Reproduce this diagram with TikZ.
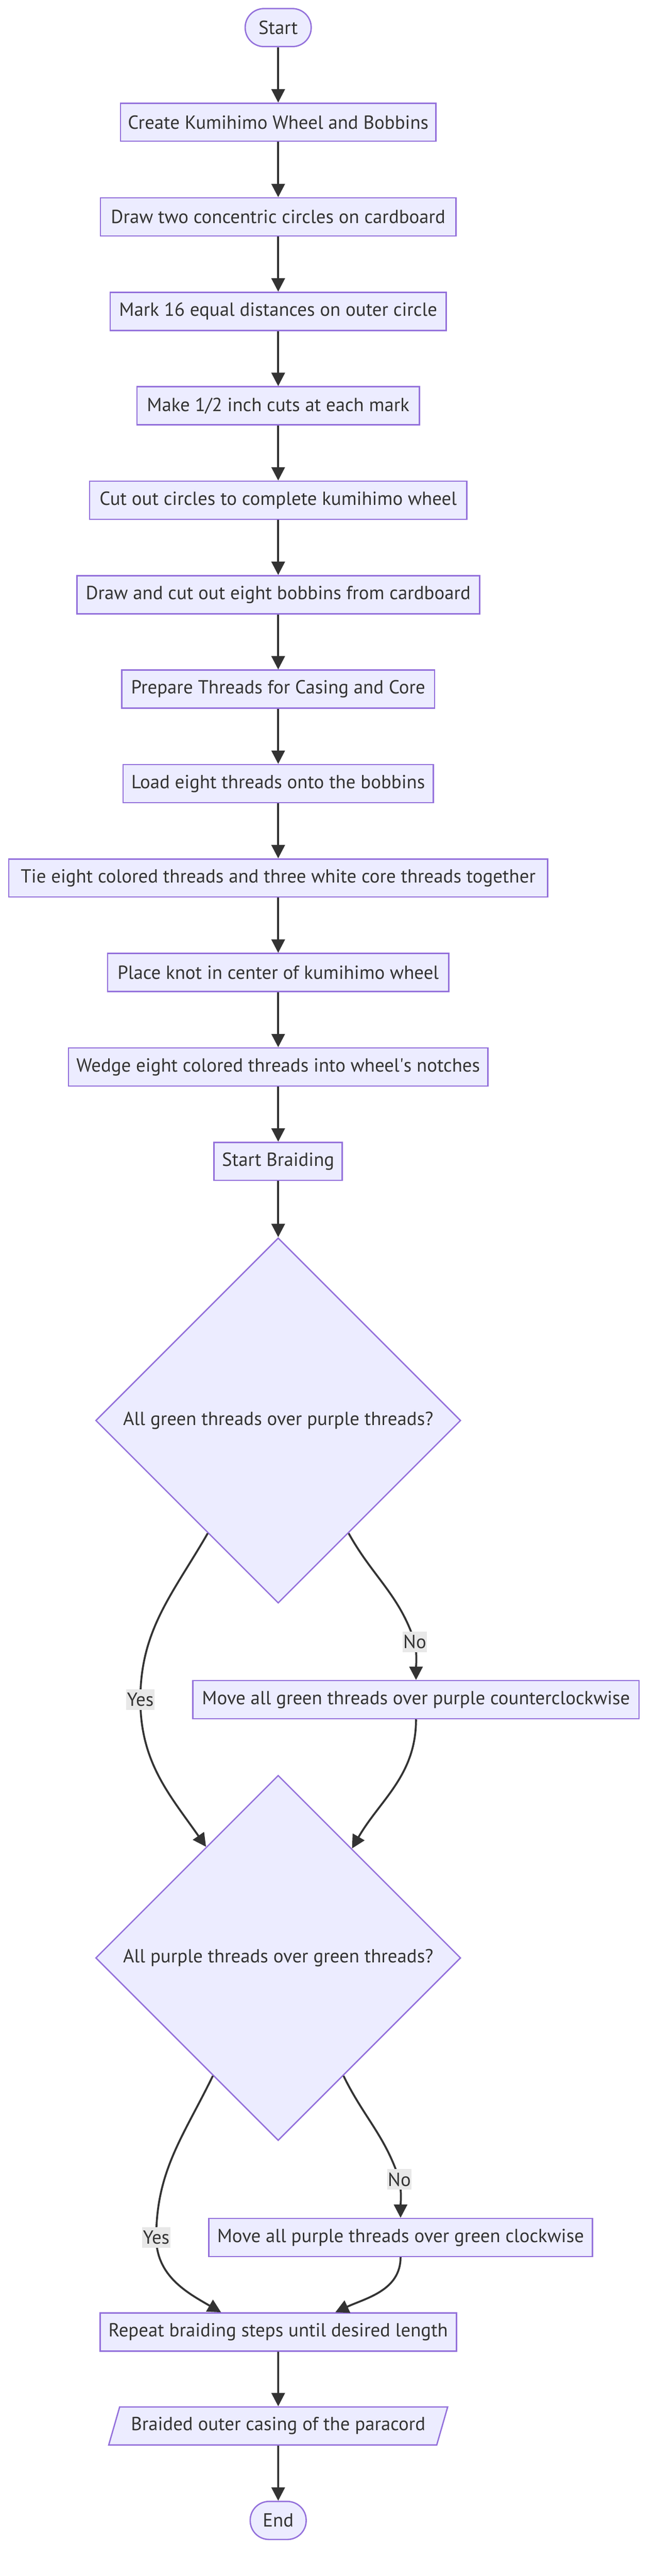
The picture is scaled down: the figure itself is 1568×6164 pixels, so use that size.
\documentclass[tikz,border=0pt]{standalone}
\usepackage{fontspec}
\setmainfont{PT Sans}
\usepackage{xcolor}
\usetikzlibrary{shapes.geometric,arrows.meta,positioning}
\definecolor{nodefill}{HTML}{ECECFF}
\definecolor{nodeline}{HTML}{9370DB}
\definecolor{edgeline}{HTML}{333333}
\definecolor{lblfill}{HTML}{E8E8E8}
\tikzset{
    box/.style={draw=nodeline, fill=nodefill, line width=1.6pt, minimum height=45.5pt, inner sep=2pt, text=edgeline, font=\fontsize{22.7}{27}\selectfont},
    term/.style={box, rounded corners=22.5pt},
    decide/.style={box, diamond, aspect=1, minimum width=437pt, minimum height=437pt},
    outbox/.style={box, trapezium, trapezium left angle=63.7, trapezium right angle=116.3, trapezium stretches},
    lbl/.style={fill=lblfill, text=edgeline, inner sep=1pt, minimum height=24.5pt, font=\fontsize{22.7}{27}\selectfont},
    flow/.style={draw=edgeline, line width=2.3pt, -{Triangle[length=16pt,width=16pt]}}
}

\begin{document}
\begin{tikzpicture}[x=0.5pt, y=0.5pt]
    \useasboundingbox (0,0) rectangle (1568,-6164);

    % Making the wheel and bobbins
    \node[term, minimum width=79pt] (start) at (666,-66) {Start};
    \node[box, minimum width=377.5pt] (wheel) at (666,-292.5) {Create Kumihimo Wheel and Bobbins};
    \node[box, minimum width=425.5pt] (circles) at (666,-519) {Draw two concentric circles on cardboard};
    \node[box, minimum width=402pt] (marks) at (666,-745) {Mark 16 equal distances on outer circle};
    \node[box, minimum width=338pt] (cuts) at (666,-971) {Make 1/2 inch cuts at each mark};
    \node[box, minimum width=451.5pt] (cutout) at (666,-1197) {Cut out circles to complete kumihimo wheel};
    \node[box, minimum width=482pt] (bobbins) at (666,-1423) {Draw and cut out eight bobbins from cardboard};

    % Threads
    \node[box, minimum width=374.5pt] (threads) at (666,-1649) {Prepare Threads for Casing and Core};
    \node[box, minimum width=371.5pt] (load) at (666,-1875) {Load eight threads onto the bobbins};
    \node[box, minimum width=645pt] (tie) at (666,-2101) {Tie eight colored threads and three white core threads together};
    \node[box, minimum width=408.5pt] (knot) at (666,-2327) {Place knot in center of kumihimo wheel};
    \node[box, minimum width=502pt] (wedge) at (666,-2553) {Wedge eight colored threads into wheel\textquotesingle s notches};
    \node[box, minimum width=153.5pt] (braid) at (666,-2779) {Start Braiding};

    % Braiding loop
    \node[decide] (green) at (666,-3399) {All green threads over purple threads?};
    \node[box, minimum width=534pt] (movegreen) at (996,-4067) {Move all green threads over purple counterclockwise};
    \node[decide] (purple) at (666,-4685) {All purple threads over green threads?};
    \node[box, minimum width=459pt] (movepurple) at (959,-5354) {Move all purple threads over green clockwise};
    \node[box, minimum width=426.5pt] (repeat) at (666,-5580) {Repeat braiding steps until desired length};
    \node[outbox, minimum width=408pt] (casing) at (666,-5805) {Braided outer casing of the paracord};
    \node[term, minimum width=67pt] (finish) at (666,-6031) {End};

    % Straight arrows
    \foreach \a/\b in {start/wheel, wheel/circles, circles/marks, marks/cuts, cuts/cutout, cutout/bobbins, bobbins/threads, threads/load, load/tie, tie/knot, knot/wedge, wedge/braid, braid/green, repeat/casing, casing/finish} {
        \draw[flow] (\a) -- (\b);
    }

    % Yes / No branches
    \coordinate (yesA) at (336,-4067);
    \coordinate (noA) at (993,-3929);
    \coordinate (yesB) at (374,-5354);
    \coordinate (noB) at (956,-5215);
    \draw[flow] (green.238) to[out=-120, in=90] (yesA) to[out=-90, in=125] (purple.123);
    \draw[flow] (green.302) to[out=-61, in=108] (noA) to[out=-80, in=90] (movegreen.north);
    \draw[flow] (movegreen.south) to[out=-90, in=60] (purple.56);
    \draw[flow] (purple.241) to[out=-116, in=90] (yesB) to[out=-90, in=150] (repeat.161);
    \draw[flow] (purple.299) to[out=-64, in=108] (noB) to[out=-80, in=90] (movepurple.north);
    \draw[flow] (movepurple.south) to[out=-90, in=25] (repeat.19);
    \node[lbl] (yesAtext) at (yesA) {Yes};
    \node[lbl] (noAtext) at (noA) {No};
    \node[lbl] (yesBtext) at (yesB) {Yes};
    \node[lbl] (noBtext) at (noB) {No};
\end{tikzpicture}
\end{document}
